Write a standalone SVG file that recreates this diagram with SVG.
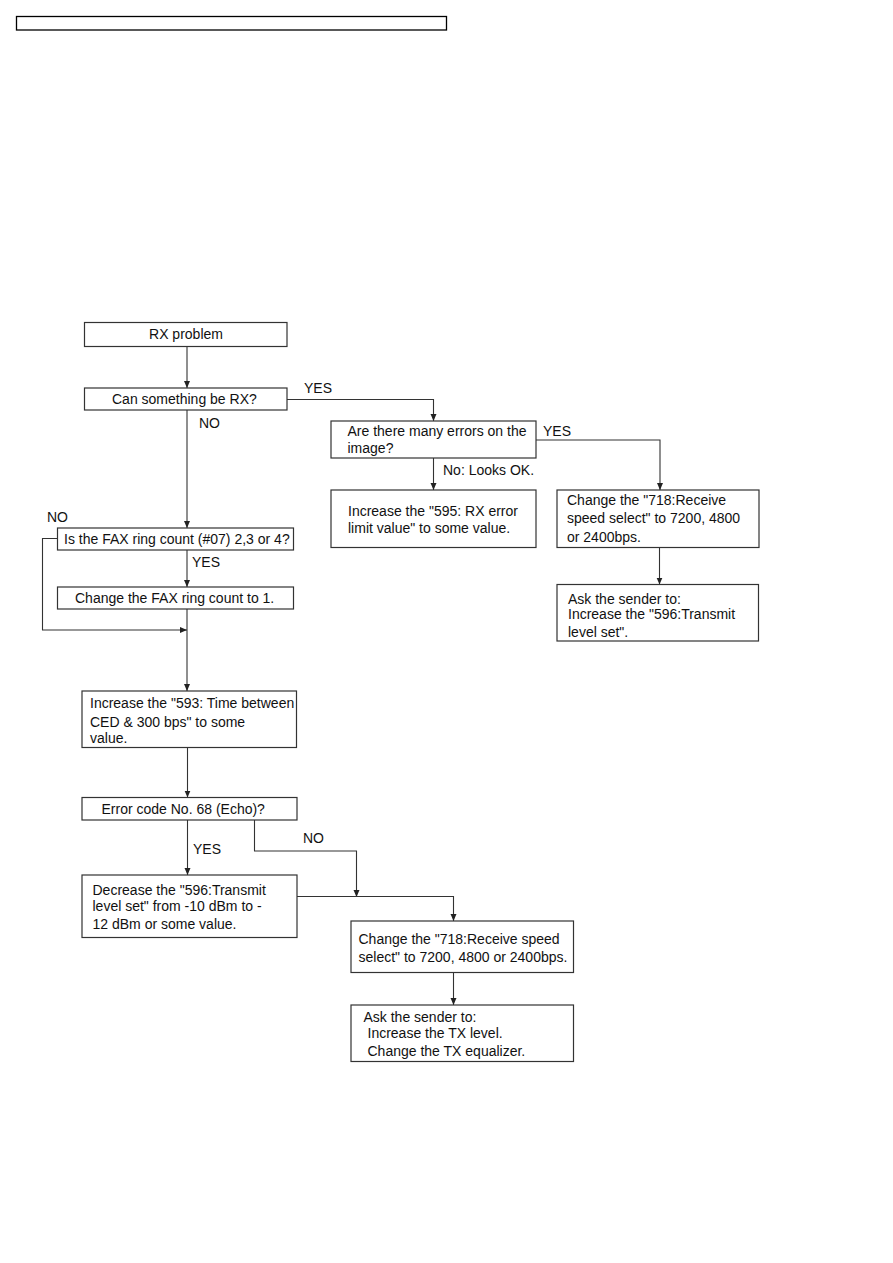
<svg xmlns="http://www.w3.org/2000/svg" width="893" height="1263" viewBox="0 0 893 1263">
<style>
.box{fill:#fff;stroke:#333;stroke-width:1.2}
.hdr{fill:#fff;stroke:#000;stroke-width:1.3}
.t{font-family:"Liberation Sans",Arial,sans-serif;font-size:14px;fill:#111}
.c{text-anchor:middle}
.ln{fill:none;stroke:#333;stroke-width:1.1}
</style>
<defs>
<marker id="ah" markerUnits="userSpaceOnUse" markerWidth="8" markerHeight="8" refX="7" refY="3.5" orient="auto">
<path d="M0,0.5 L7,3.5 L0,6.5 z" fill="#222"/>
</marker>
</defs>
<rect width="893" height="1263" fill="#fff"/>
<rect id="header" class="hdr" x="16.5" y="16.5" width="430" height="13.5"/>

<g id="connectors">
<line class="ln" x1="187" y1="347" x2="187" y2="388" marker-end="url(#ah)"/>
<polyline class="ln" points="287,399.5 433.5,399.5 433.5,421" marker-end="url(#ah)"/>
<line class="ln" x1="187" y1="410" x2="187" y2="528" marker-end="url(#ah)"/>
<line class="ln" x1="433.5" y1="458" x2="433.5" y2="490" marker-end="url(#ah)"/>
<polyline class="ln" points="536,440 660,440 660,490" marker-end="url(#ah)"/>
<line class="ln" x1="659.5" y1="547" x2="659.5" y2="584.5" marker-end="url(#ah)"/>
<line class="ln" x1="187" y1="550" x2="187" y2="587" marker-end="url(#ah)"/>
<polyline class="ln" points="57.5,538.5 42.5,538.5 42.5,630 187,630" marker-end="url(#ah)"/>
<line class="ln" x1="187" y1="609" x2="187" y2="691" marker-end="url(#ah)"/>
<line class="ln" x1="187.5" y1="748" x2="187.5" y2="797.5" marker-end="url(#ah)"/>
<line class="ln" x1="187.5" y1="820" x2="187.5" y2="875" marker-end="url(#ah)"/>
<polyline class="ln" points="254.5,820 254.5,851 356.5,851 356.5,897" marker-end="url(#ah)"/>
<polyline class="ln" points="297,896.5 453.5,896.5 453.5,921" marker-end="url(#ah)"/>
<line class="ln" x1="453.5" y1="972" x2="453.5" y2="1005" marker-end="url(#ah)"/>
<text class="t" x="304" y="393">YES</text>
<text class="t" x="199" y="428">NO</text>
<text class="t" x="543" y="435.5">YES</text>
<text class="t" x="443" y="475">No: Looks OK.</text>
<text class="t" x="47" y="522">NO</text>
<text class="t" x="192" y="566.5">YES</text>
<text class="t" x="193" y="854">YES</text>
<text class="t" x="303" y="843">NO</text>
</g>

<g id="n_rx_problem">
<rect class="box" x="84.5" y="322.5" width="202.5" height="24"/>
<text class="t c" x="186" y="339">RX problem</text>
</g>
<g id="n_can_rx">
<rect class="box" x="84.5" y="388" width="202.5" height="22"/>
<text class="t" x="112" y="404">Can something be RX?</text>
</g>
<g id="n_many_errors">
<rect class="box" x="331" y="421" width="205" height="37"/>
<text class="t" x="347.5" y="435.5">Are there many errors on the</text>
<text class="t" x="347.5" y="453">image?</text>
</g>
<g id="n_595">
<rect class="box" x="331" y="490" width="205" height="57.5"/>
<text class="t" x="348" y="515.5">Increase the "595: RX error</text>
<text class="t" x="348" y="533">limit value" to some value.</text>
</g>
<g id="n_718_right">
<rect class="box" x="557" y="490" width="202" height="57.5"/>
<text class="t" x="567" y="505">Change the "718:Receive</text>
<text class="t" x="567" y="523">speed select" to 7200, 4800</text>
<text class="t" x="567" y="541.5">or 2400bps.</text>
</g>
<g id="n_ask_596">
<rect class="box" x="557" y="584.5" width="201.5" height="56.5"/>
<text class="t" x="568" y="604">Ask the sender to:</text>
<text class="t" x="568" y="619">Increase the "596:Transmit</text>
<text class="t" x="568" y="636.5">level set".</text>
</g>
<g id="n_ring_count">
<rect class="box" x="57.5" y="528" width="236" height="22"/>
<text class="t" x="64" y="544">Is the FAX ring count (#07) 2,3 or 4?</text>
</g>
<g id="n_change_ring">
<rect class="box" x="57.5" y="587" width="236" height="22"/>
<text class="t" x="75" y="602.5">Change the FAX ring count to 1.</text>
</g>
<g id="n_593">
<rect class="box" x="82" y="691" width="214.5" height="56.5"/>
<text class="t" x="90" y="708">Increase the "593: Time between</text>
<text class="t" x="90" y="726.5">CED &amp; 300 bps" to some</text>
<text class="t" x="90" y="743">value.</text>
</g>
<g id="n_error68">
<rect class="box" x="82" y="797.5" width="215" height="22.5"/>
<text class="t" x="101.5" y="814">Error code No. 68 (Echo)?</text>
</g>
<g id="n_decrease_596">
<rect class="box" x="82" y="875" width="215" height="62.5"/>
<text class="t" x="92.5" y="895">Decrease the "596:Transmit</text>
<text class="t" x="92.5" y="910.5">level set" from -10 dBm to -</text>
<text class="t" x="92.5" y="929">12 dBm or some value.</text>
</g>
<g id="n_718_bottom">
<rect class="box" x="351" y="921" width="222.5" height="51.5"/>
<text class="t" x="358.5" y="944">Change the "718:Receive speed</text>
<text class="t" x="358.5" y="961.5">select" to 7200, 4800 or 2400bps.</text>
</g>
<g id="n_ask_tx">
<rect class="box" x="351" y="1005" width="222.5" height="56.5"/>
<text class="t" x="363.5" y="1021.5">Ask the sender to:</text>
<text class="t" x="367.5" y="1038">Increase the TX level.</text>
<text class="t" x="367.5" y="1056">Change the TX equalizer.</text>
</g>
</svg>
